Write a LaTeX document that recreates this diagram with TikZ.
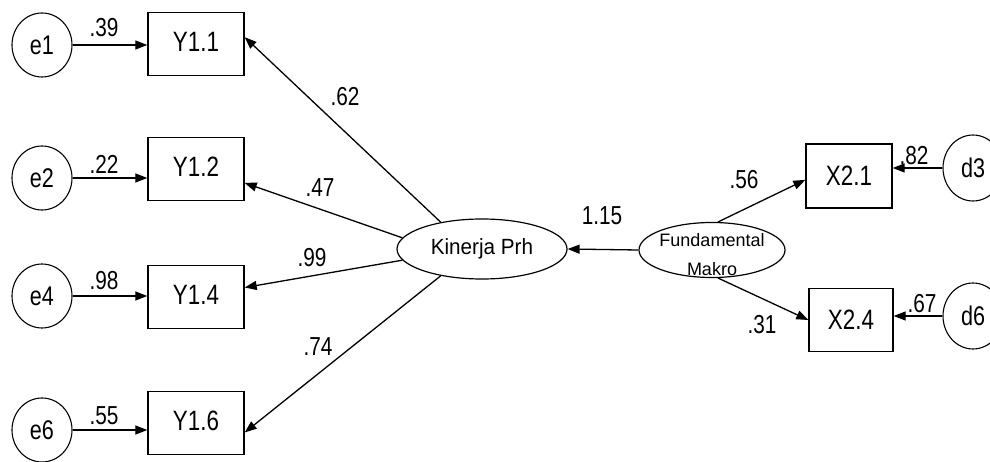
\documentclass[tikz,border=0pt]{standalone}
\usepackage{fontspec}
\setmainfont{Liberation Sans}
\newfontfamily\narrowsans[FakeStretch=0.8]{Liberation Sans}
\newfontfamily\latentsans[FakeStretch=0.94]{Liberation Sans}
\usetikzlibrary{arrows.meta,shapes.geometric}

\tikzset{
  obs/.style={draw, rectangle, line width=1.4pt, minimum width=96pt, minimum height=63pt,
              inner sep=0pt, font=\narrowsans\fontsize{28}{30}\selectfont},
  err/.style={draw, ellipse, line width=1.1pt, minimum width=60pt, minimum height=64pt,
              inner sep=0pt, font=\narrowsans\fontsize{27}{29}\selectfont},
  lat/.style={draw, ellipse, line width=1.2pt, inner sep=0pt},
  path/.style={line width=1.3pt, -{Triangle[length=12pt,width=9pt]}},
  coef/.style={font=\narrowsans\fontsize{26}{28}\selectfont, inner sep=0pt}
}

\begin{document}
\begin{tikzpicture}[x=1pt, y=-1pt]
  \useasboundingbox (0,0) rectangle (990,462);

  % indicators of Kinerja Prh
  \node[obs] (y11) at (196,44)  {\raisebox{5pt}{Y1.1}};
  \node[obs] (y12) at (196,169) {\raisebox{5pt}{Y1.2}};
  \node[obs] (y14) at (196,297) {\raisebox{5pt}{Y1.4}};
  \node[obs] (y16) at (196,423) {\raisebox{5pt}{Y1.6}};

  % measurement errors
  \node[err] (e1) at (42,45)  {e1};
  \node[err] (e2) at (42,178) {e2};
  \node[err] (e4) at (42,296) {e4};
  \node[err] (e6) at (42,430) {e6};

  % latent variables
  \node[lat, minimum width=170pt, minimum height=60pt,
        font=\latentsans\fontsize{22}{24}\selectfont] (kp) at (482,249) {Kinerja Prh};
  \node[lat, minimum width=146pt, minimum height=55pt] (fm) at (712,250) {};
  \node[align=center, inner sep=0pt, font=\fontsize{18}{29}\selectfont]
        (fmtext) at (712,255) {Fundamental\\Makro};

  % indicators of Fundamental Makro
  \node[obs, minimum width=86pt, minimum height=64pt] (x21) at (849,176) {X2.1};
  \node[obs, minimum width=84pt, minimum height=63pt] (x24) at (851,320) {X2.4};
  \node[err, minimum height=66pt] (d3) at (973,168) {d3};
  \node[err, minimum height=66pt] (d6) at (973,316) {d6};

  % error paths
  \draw[path] (e1.east) -- (e1.east -| y11.west);
  \draw[path] (e2.east) -- (e2.east -| y12.west);
  \draw[path] (e4.east) -- (e4.east -| y14.west);
  \draw[path] (e6.east) -- (e6.east -| y16.west);
  \draw[path] (d3.west) -- (d3.west -| x21.east);
  \draw[path] (d6.west) -- (d6.west -| x24.east);

  % loadings
  \draw[path] (kp.147) -- (y11.8);
  \draw[path] (kp.172) -- (y12.-16);
  \draw[path] (kp.188) -- (y14.11);
  \draw[path] (kp.213) -- (y16.-11);
  \draw[path] (fm.west) -- (kp.east);
  \draw[path] (fm.78) -- (x21.185);
  \draw[path] (fm.-78) -- (x24.west);

  % coefficients
  \node[coef] (c39) at (104,28)  {.39};
  \node[coef] (c22) at (104,164) {.22};
  \node[coef] (c98) at (104,281) {.98};
  \node[coef] (c55) at (104,416) {.55};
  \node[coef] (c62) at (345,97)  {.62};
  \node[coef] (c47) at (320,188) {.47};
  \node[coef] (c99) at (312,258) {.99};
  \node[coef] (c74) at (318,347) {.74};
  \node[coef] (c115) at (602,216) {1.15};
  \node[coef] (c56) at (744,180) {.56};
  \node[coef] (c31) at (762,325) {.31};
  \node[coef] (c82) at (914,156) {.82};
  \node[coef] (c67) at (922,304) {.67};
\end{tikzpicture}
\end{document}
